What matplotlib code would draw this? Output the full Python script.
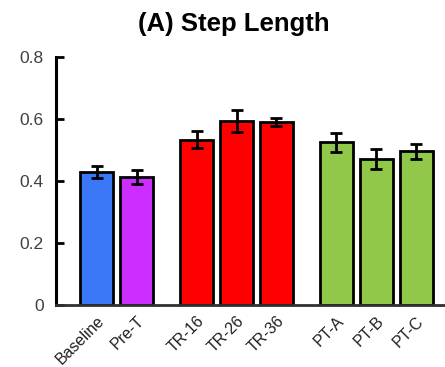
import matplotlib
matplotlib.use("Agg")
import matplotlib.pyplot as plt

# Conditions, grouped: baseline / training / post-training
categories = ["Baseline", "Pre-T", "TR-16", "TR-26", "TR-36", "PT-A", "PT-B", "PT-C"]
positions = [0, 1, 2.5, 3.5, 4.5, 6, 7, 8]
step_length = [0.428, 0.412, 0.533, 0.594, 0.590, 0.524, 0.472, 0.495]
sem = [0.020, 0.022, 0.028, 0.036, 0.013, 0.030, 0.032, 0.025]
colors = ["#3a78f7", "#cc2eff", "#ff0000", "#ff0000", "#ff0000",
          "#92c84a", "#92c84a", "#92c84a"]
yticks = [0, 0.2, 0.4, 0.6, 0.8]
ytick_labels = ["0", "0.2", "0.4", "0.6", "0.8"]

plt.rcParams["font.family"] = ["Liberation Sans", "DejaVu Sans"]

fig = plt.figure(figsize=(4.45, 3.67), dpi=100)
ax = fig.add_axes([0.126, 0.169, 0.874, 0.676])

ax.bar(positions, step_length, width=0.82, color=colors,
       edgecolor="black", linewidth=2.0, zorder=2)
ax.errorbar(positions, step_length, yerr=sem, fmt="none", ecolor="black",
            elinewidth=2.0, capsize=4.0, capthick=2.0, zorder=3)

ax.set_xlim(-1.02, 8.72)
ax.set_ylim(0, 0.8)
ax.set_yticks(yticks)
ax.set_yticklabels(ytick_labels, fontsize=12.5, color="#404040")
ax.tick_params(axis="y", direction="in", length=6, width=2, pad=9)
ax.set_xticks(positions)
ax.set_xticklabels(categories, rotation=45, ha="right", rotation_mode="anchor",
                   fontsize=11.5, color="#202020")
ax.tick_params(axis="x", length=0, pad=6)

for side in ("top", "right"):
    ax.spines[side].set_visible(False)
ax.spines["left"].set_linewidth(2.2)
ax.spines["bottom"].set_linewidth(2.0)
ax.spines["bottom"].set_color("#303030")

fig.text(0.526, 0.935, "(A) Step Length", ha="center", va="center",
         fontsize=18.5, fontweight="bold")

fig.savefig("out.png", dpi=100)
